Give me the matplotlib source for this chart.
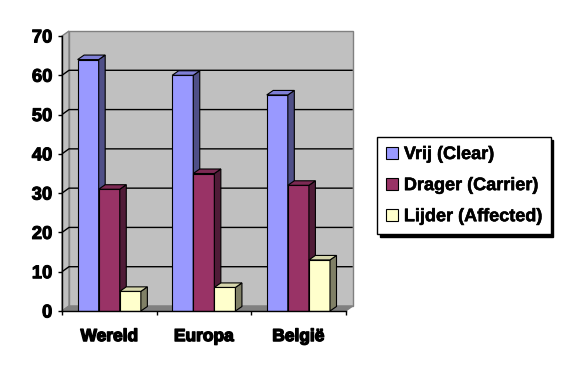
import matplotlib
matplotlib.use("Agg")
import matplotlib.pyplot as plt
from matplotlib.patches import Polygon, Patch
import matplotlib.patheffects as pe

categories = ['Wereld', 'Europa', 'België']
series_names = ['Vrij (Clear)', 'Drager (Carrier)', 'Lijder (Affected)']
vrij = [64, 60, 55]
drager = [31, 35, 32]
lijder = [5, 6, 13]
yticks = [0, 10, 20, 30, 40, 50, 60, 70]

front_colors = ['#9999FF', '#993366', '#FFFFCC']
top_colors = ['#7F7FD6', '#7D2A54', '#D6D6AC']
side_colors = ['#4F4F87', '#501B37', '#808066']

FONT = ['Liberation Sans', 'DejaVu Sans']

W, H = 564, 372
fig = plt.figure(figsize=(W / 100, H / 100), dpi=100)
ax_left, ax_bottom, ax_w, ax_h = 62, 311, 283.7, 275
ax = fig.add_axes([ax_left / W, (H - ax_bottom) / H, ax_w / W, ax_h / H])
ax.set_xlim(0, 3)
ax.set_ylim(0, 70)

# pixel -> data conversion for depth offsets
px_x = 3 / ax_w
px_y = 70 / ax_h
wdx, wdy = 7 * px_x, 5 * px_y      # wall depth
bdx, bdy = 6.5 * px_x, 4.5 * px_y  # bar depth

wall_c = '#C0C0C0'
edge_gray = '#808080'
# back wall
ax.add_patch(Polygon([(wdx, wdy), (3 + wdx, wdy), (3 + wdx, 70 + wdy), (wdx, 70 + wdy)],
                     closed=True, facecolor=wall_c, edgecolor=edge_gray, lw=1,
                     zorder=0.5, clip_on=False))
# side wall
ax.add_patch(Polygon([(0, 0), (wdx, wdy), (wdx, 70 + wdy), (0, 70)],
                     closed=True, facecolor=wall_c, edgecolor=edge_gray, lw=1,
                     zorder=0.5, clip_on=False))
# floor
ax.add_patch(Polygon([(0, 0), (3, 0), (3 + wdx, wdy), (wdx, wdy)],
                     closed=True, facecolor=edge_gray, edgecolor=edge_gray, lw=1,
                     zorder=0.6, clip_on=False))
# gridlines
for v in yticks[1:-1]:
    ax.plot([0, wdx, 3 + wdx], [v, v + wdy, v + wdy], color='black', lw=1,
            zorder=0.8, clip_on=False, solid_capstyle='butt')

x = list(range(len(categories)))
gap, bw = 0.165, 0.223
for i, vals in enumerate([vrij, drager, lijder]):
    lefts = [c + gap + i * bw for c in x]
    bars = ax.bar(lefts, vals, width=bw, align='edge', color=front_colors[i],
                  edgecolor='black', lw=0.8, zorder=2 + i)
    for rect in bars:
        x0 = rect.get_x()
        w = rect.get_width()
        h = rect.get_height()
        ax.add_patch(Polygon([(x0 + w, 0), (x0 + w + bdx, bdy), (x0 + w + bdx, h + bdy), (x0 + w, h)],
                             closed=True, facecolor=side_colors[i], edgecolor='black',
                             lw=0.8, zorder=2 + i, clip_on=False))
        ax.add_patch(Polygon([(x0, h), (x0 + w, h), (x0 + w + bdx, h + bdy), (x0 + bdx, h + bdy)],
                             closed=True, facecolor=top_colors[i], edgecolor='black',
                             lw=0.8, zorder=2 + i, clip_on=False))

for s in ['top', 'right']:
    ax.spines[s].set_visible(False)
for s in ['left', 'bottom']:
    ax.spines[s].set_color('black')
    ax.spines[s].set_linewidth(1)
    ax.spines[s].set_zorder(10)
ax.patch.set_visible(False)

ax.set_yticks(yticks)
ylabels = ax.set_yticklabels([str(v) for v in yticks], fontsize=13.3, fontweight='bold',
                             family=FONT)
for t in ylabels:
    t.set_path_effects([pe.withStroke(linewidth=0.7, foreground='black')])
ax.tick_params(axis='y', direction='out', length=3, width=1, pad=4)
ax.set_xticks([0, 1, 2, 3])
ax.set_xticklabels([])
ax.tick_params(axis='x', which='major', direction='out', length=3, width=1)
ax.set_xticks([c + 0.5 for c in x], minor=True)
xlabels = ax.set_xticklabels(categories, minor=True, fontsize=12.5, fontweight='bold',
                             family=FONT)
for t in xlabels:
    t.set_path_effects([pe.withStroke(linewidth=1.0, foreground='black')])
ax.tick_params(axis='x', which='minor', length=0, pad=13)

handles = [Patch(facecolor=front_colors[i], edgecolor='black', lw=0.8) for i in range(3)]
leg = fig.legend(handles, series_names, loc='upper left',
                 bbox_to_anchor=(377 / W, 1 - 137 / H), bbox_transform=fig.transFigure,
                 borderaxespad=0, prop={'size': 13, 'weight': 'bold', 'family': FONT},
                 frameon=True, fancybox=False, shadow={'color': 'black', 'alpha': 1},
                 borderpad=0.5, handletextpad=0.33, handlelength=0.66, handleheight=0.66,
                 labelspacing=0.78)
leg.get_frame().set_edgecolor('black')
leg.get_frame().set_linewidth(1)
for t in leg.get_texts():
    t.set_path_effects([pe.withStroke(linewidth=0.4, foreground='black')])

fig.savefig('out.png', dpi=100)
